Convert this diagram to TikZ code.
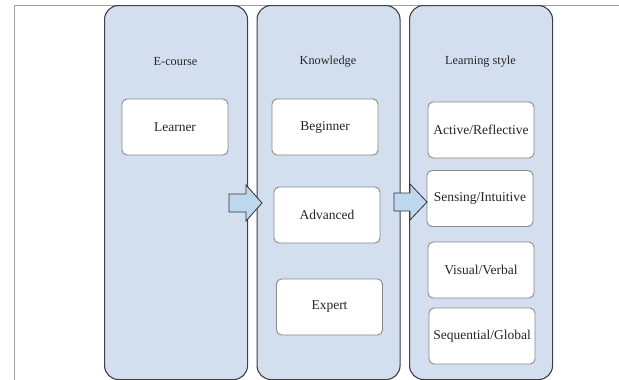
\documentclass[tikz,border=0pt]{standalone}
\usepackage{fontspec}
\setmainfont{Liberation Serif}
\definecolor{colfill}{HTML}{D3DEEF}
\definecolor{arrfill}{HTML}{BDD7EE}
\definecolor{colline}{HTML}{404040}
\definecolor{boxline}{HTML}{8A8A8A}
\definecolor{frameline}{HTML}{A0A0A0}
\begin{document}
\begin{tikzpicture}[x=1pt,y=-1pt,
  column/.style={draw=colline, line width=1.1pt, fill=colfill, rounded corners=14pt,
    minimum width=143pt, minimum height=374pt, inner sep=0pt, anchor=north west},
  header/.style={font=\fontsize{12.3}{14}\selectfont, text=black!85, inner sep=0pt},
  itembox/.style={draw=boxline, line width=0.9pt, fill=white, rounded corners=5pt,
    minimum width=106pt, minimum height=56pt, inner sep=0pt,
    font=\fontsize{13.5}{15}\selectfont, text=black!85},
  blockarrow/.style={draw=black!80, line width=0.8pt, fill=arrfill, line join=miter}
]
\useasboundingbox (0,0) rectangle (619,380);
\fill[white] (0,0) rectangle (619,380);
% frame lines
\coordinate (ftl) at (14,5);
\coordinate (ftr) at (619,5);
\coordinate (fbl) at (14,380);
\draw[frameline, line width=1pt] (fbl) -- (ftl) -- (ftr);
% columns
\node[column] (c1) at (104,5) {};
\node[column] (c2) at (256.5,5) {};
\node[column] (c3) at (409,5) {};
% headers
\node[header] (h1) at (175.5,62) {E-course};
\node[header] (h2) at (328,62) {Knowledge};
\node[header] (h3) at (480.5,62) {Learning style};
% items
\node[itembox] (learner) at (175,127) {Learner};
\node[itembox] (beginner) at (325,127) {Beginner};
\node[itembox] (advanced) at (327,215) {Advanced};
\node[itembox] (expert) at (329.5,307) {Expert};
\node[itembox] (active) at (481,130) {Active/Reflective};
\node[itembox] (sensing) at (480,198.5) {Sensing/Intuitive};
\node[itembox] (visual) at (481,270) {Visual/Verbal};
\node[itembox] (sequential) at (482,336) {Sequential/Global};
% block arrows
\draw[blockarrow] (229,194) -- (246,194) -- (246,185) -- (262,203) -- (246,221) -- (246,212) -- (229,212) -- cycle;
\draw[blockarrow] (394,193) -- (410,193) -- (410,184) -- (427,202) -- (410,220) -- (410,211) -- (394,211) -- cycle;
\end{tikzpicture}
\end{document}
